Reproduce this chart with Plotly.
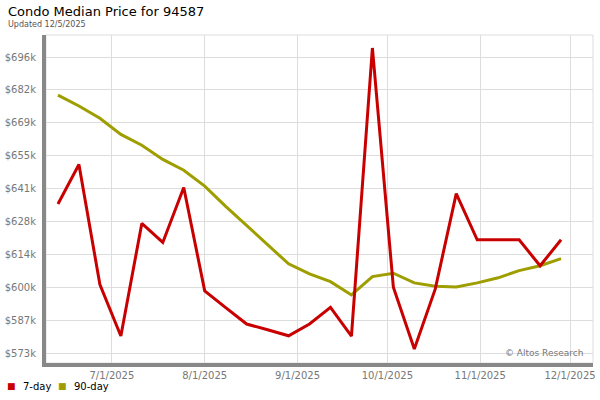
import plotly.graph_objects as go
import pandas as pd

start_date = "2025-06-13"
n_weeks = 25
dates = pd.date_range(start_date, periods=n_weeks, freq="7D")

price_7day = [635.6, 652.0, 602.1, 580.7, 627.5, 619.6, 642.4, 599.5, 592.5, 585.7,
              583.3, 580.8, 585.7, 592.6, 580.7, 700.4, 601.0, 575.3, 600.3, 639.9,
              620.7, 620.7, 620.7, 609.9, 620.7]
price_90day = [680.8, 676.3, 671.2, 664.5, 660.0, 654.1, 649.6, 643.0, 634.6, 626.7,
               618.8, 610.7, 606.5, 603.3, 597.8, 605.4, 606.8, 602.8, 601.4, 601.1,
               602.8, 604.9, 607.9, 609.9, 612.9]

series_names = ["7-day", "90-day"]
y_tick_vals = [573.6 + i * 13.67 for i in range(10)]
y_tick_text = ["$573k", "$587k", "$600k", "$614k", "$628k", "$641k", "$655k", "$669k", "$682k", "$696k"]
x_tick_vals = ["2025-07-01", "2025-08-01", "2025-09-01", "2025-10-01", "2025-11-01", "2025-12-01"]
x_tick_text = ["7/1/2025", "8/1/2025", "9/1/2025", "10/1/2025", "11/1/2025", "12/1/2025"]

RED = "#c80000"
OLIVE = "#9e9e00"
FONT = "DejaVu Sans"

fig = go.Figure()
fig.add_trace(go.Scatter(x=dates, y=price_90day, mode="lines", name=series_names[1],
                         line=dict(color=OLIVE, width=3), showlegend=False, hoverinfo="skip"))
fig.add_trace(go.Scatter(x=dates, y=price_7day, mode="lines", name=series_names[0],
                         line=dict(color=RED, width=3), showlegend=False, hoverinfo="skip"))

# legend drawn as text: square glyphs + labels
legend_items = [(series_names[0], RED, 11, 21), (series_names[1], OLIVE, 62, 72)]
legend_ann = []
for name, col, sq_px, txt_px in legend_items:
    legend_ann.append(dict(text="■", xref="paper", yref="paper", x=(sq_px - 46) / 547,
                           y=(363 - 386) / 328, xanchor="center", yanchor="middle",
                           showarrow=False, font=dict(family=FONT, size=9, color=col)))
    legend_ann.append(dict(text=name, xref="paper", yref="paper", x=(txt_px - 46) / 547,
                           y=(363 - 386) / 328, xanchor="left", yanchor="middle",
                           showarrow=False, font=dict(family=FONT, size=10, color="#000000")))

fig.update_layout(
    width=600, height=400,
    margin=dict(l=46, r=7, t=35, b=37, autoexpand=False),
    paper_bgcolor="white", plot_bgcolor="white",
    font=dict(family=FONT, size=10, color="#777777"),
    showlegend=False,
    annotations=[
        dict(text="Condo Median Price for 94587", xref="paper", yref="paper", x=-0.073, y=1.0,
             xanchor="left", yanchor="bottom", yshift=14, showarrow=False,
             font=dict(family=FONT, size=13, color="#000000")),
        dict(text="Updated 12/5/2025", xref="paper", yref="paper", x=-0.073, y=1.0,
             xanchor="left", yanchor="bottom", yshift=4, showarrow=False,
             font=dict(family=FONT, size=8, color="#555555")),
        dict(text="© Altos Research", xref="paper", yref="paper", x=0.985, y=0.0,
             xanchor="right", yanchor="bottom", yshift=3, showarrow=False,
             font=dict(family=FONT, size=9, color="#777777")),
    ] + legend_ann,
    shapes=[dict(type="rect", xref="paper", yref="paper", x0=0, x1=1, y0=0, y1=1,
                 line=dict(color="#dddddd", width=1), layer="below")],
)
fig.update_xaxes(
    type="date", range=["2025-06-09", "2025-12-08 16:00"],
    tickvals=x_tick_vals, ticktext=x_tick_text, automargin=False,
    showgrid=True, gridcolor="#dddddd", gridwidth=1,
    showline=True, linecolor="#888888", linewidth=4,
    ticks="", zeroline=False, tickfont=dict(size=10, color="#777777"),
)
fig.update_yaxes(
    range=[569.5, 705.8], automargin=False,
    tickvals=y_tick_vals, ticktext=y_tick_text,
    showgrid=True, gridcolor="#dddddd", gridwidth=1,
    showline=True, linecolor="#888888", linewidth=4,
    ticks="", zeroline=False, tickfont=dict(size=10, color="#777777"),
    ticklabelstandoff=4,
)

fig.write_html("out.html", config={"displayModeBar": False},
               post_script="document.body.style.margin='0px';document.body.style.padding='0px';")
